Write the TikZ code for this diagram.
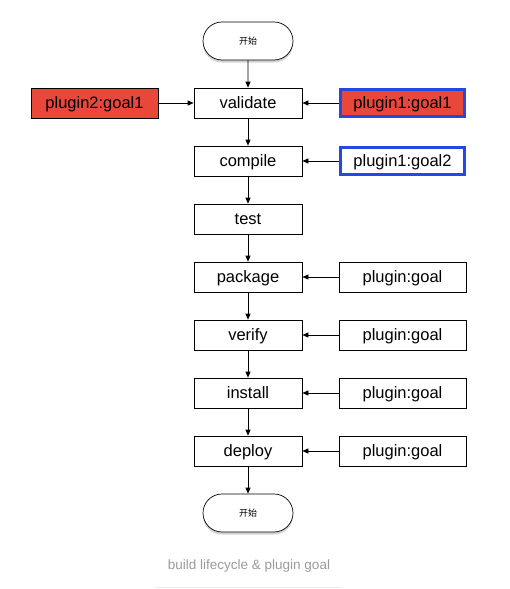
\documentclass[tikz,border=0pt]{standalone}
\usepackage{fontspec}
\setmainfont{Liberation Sans}
\newfontfamily\cjk{Noto Sans CJK SC}
\usetikzlibrary{arrows.meta,shadows,shapes.misc}
\definecolor{pred}{HTML}{E8473A}
\definecolor{pblue}{HTML}{2448E0}
\definecolor{capgray}{HTML}{9A9A9A}
\begin{document}
\begin{tikzpicture}[x=1pt,y=-1pt,
  stepbox/.style={draw=black,line width=0.7pt,minimum width=108pt,minimum height=30pt,inner sep=0pt,text height=12pt,text depth=2pt,font=\fontsize{16.5}{19}\selectfont},
  plugbox/.style={draw=black,line width=0.7pt,minimum width=127pt,minimum height=30pt,inner sep=0pt,text height=12pt,text depth=2pt,font=\fontsize{16.5}{19}\selectfont},
  redfill/.style={fill=pred},
  bluebord/.style={draw=pblue,line width=3pt,minimum width=124pt,minimum height=27pt},
  termbox/.style={draw=black,line width=0.7pt,rounded rectangle,minimum width=90pt,minimum height=38pt,fill=white,inner sep=0pt,font=\cjk\fontsize{9}{10}\selectfont,drop shadow={shadow xshift=0pt,shadow yshift=-2.5pt,opacity=0.35,fill=gray}},
  arr/.style={-{Triangle[length=6pt,width=5pt]},line width=0.7pt}]
\useasboundingbox (0,0) rectangle (510,589);
\node[termbox] (start) at (248,41) {开始};
\node[stepbox] (validate) at (248,103) {validate};
\node[stepbox] (compile) at (248,161) {compile};
\node[stepbox] (test) at (248,219) {test};
\node[stepbox] (package) at (248,277) {package};
\node[stepbox] (verify) at (248,335) {verify};
\node[stepbox] (install) at (248,393) {install};
\node[stepbox] (deploy) at (248,451) {deploy};
\node[termbox] (end) at (248,513) {开始};
\node[plugbox,redfill] (p2g1) at (94.5,103) {plugin2:goal1};
\node[plugbox,redfill,bluebord] (p1g1) at (402.5,103) {plugin1:goal1};
\node[plugbox,fill=white,bluebord] (p1g2) at (402.5,161) {plugin1:goal2};
\node[plugbox] (pg1) at (402.5,277) {plugin:goal};
\node[plugbox] (pg2) at (402.5,335) {plugin:goal};
\node[plugbox] (pg3) at (402.5,393) {plugin:goal};
\node[plugbox] (pg4) at (402.5,451) {plugin:goal};
\draw[arr] (start) -- (validate);
\draw[arr] (validate) -- (compile);
\draw[arr] (compile) -- (test);
\draw[arr] (test) -- (package);
\draw[arr] (package) -- (verify);
\draw[arr] (verify) -- (install);
\draw[arr] (install) -- (deploy);
\draw[arr] (deploy) -- (end);
\draw[arr] (p2g1) -- (validate);
\draw[arr] (p1g1) -- (validate);
\draw[arr] (p1g2) -- (compile);
\draw[arr] (pg1) -- (package);
\draw[arr] (pg2) -- (verify);
\draw[arr] (pg3) -- (install);
\draw[arr] (pg4) -- (deploy);
\node[text=capgray,font=\fontsize{13.5}{16}\selectfont] (caption) at (249,566) {build lifecycle \& plugin goal};
\coordinate (ruleL) at (155,587);
\coordinate (ruleR) at (342,587);
\draw[draw=black!8,line width=0.6pt] (ruleL) -- (ruleR);
\end{tikzpicture}
\end{document}
